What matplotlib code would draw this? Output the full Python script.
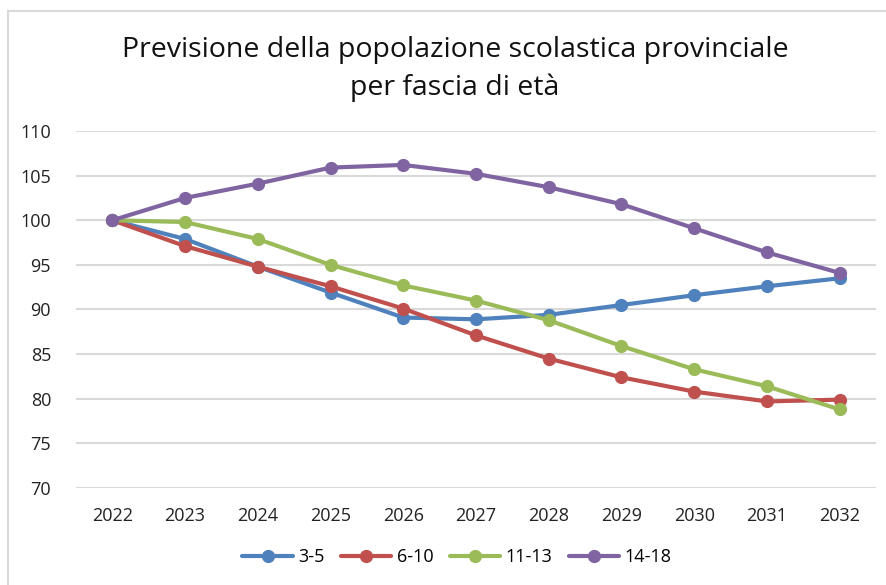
import matplotlib
matplotlib.use("Agg")
import matplotlib.pyplot as plt
from matplotlib.patches import Rectangle

years = ["2022", "2023", "2024", "2025", "2026", "2027", "2028", "2029", "2030", "2031", "2032"]
eta_3_5 = [100, 97.9, 94.8, 91.9, 89.1, 88.9, 89.4, 90.5, 91.6, 92.6, 93.5]
eta_6_10 = [100, 97.1, 94.8, 92.6, 90.1, 87.1, 84.5, 82.4, 80.8, 79.7, 79.9]
eta_11_13 = [100, 99.8, 97.9, 95.0, 92.7, 91.0, 88.8, 85.9, 83.3, 81.4, 78.8]
eta_14_18 = [100, 102.5, 104.1, 105.9, 106.2, 105.2, 103.7, 101.8, 99.1, 96.4, 94.1]

series = [
    ("3-5", eta_3_5, "#4F81BD"),
    ("6-10", eta_6_10, "#C0504D"),
    ("11-13", eta_11_13, "#9BBB59"),
    ("14-18", eta_14_18, "#8064A2"),
]

plt.rcParams['font.family'] = ['Open Sans', 'DejaVu Sans']

fig = plt.figure(figsize=(8.86, 5.85), dpi=100)
ax = fig.add_axes([76 / 886, 1 - 488 / 585, 800 / 886, 357 / 585])

x = range(len(years))
for name, vals, col in series:
    ax.plot(x, vals, color=col, lw=3, marker="o", ms=8.5, label=name,
            solid_capstyle="round", zorder=3)

ax.set_xlim(-0.5, len(years) - 0.5)
ax.set_ylim(70, 110)
ax.set_yticks(range(70, 111, 5))
ax.set_xticks(list(x))
ax.set_xticklabels(years)
ax.grid(axis="y", color="#D9D9D9", lw=1.5)
ax.set_axisbelow(True)
for s in ax.spines.values():
    s.set_visible(False)
ax.tick_params(length=0, labelsize=13, colors="#222222")
ax.tick_params(axis="x", pad=14)
ax.tick_params(axis="y", pad=18)

fig.text(455 / 886, 1 - 69 / 585, "Previsione della popolazione scolastica provinciale\nper fascia di età",
         ha="center", va="center", fontsize=20.5, linespacing=1.45, color="#111111")

ax.legend(loc="center", bbox_to_anchor=(457 / 886, 1 - 557 / 585), bbox_transform=fig.transFigure,
          ncol=4, frameon=False, fontsize=13, handlelength=2.8, columnspacing=0.9,
          handletextpad=0.3)

fig.patches.append(Rectangle((8 / 886, -0.05), 1.0, 1 - 11 / 585 + 0.05, transform=fig.transFigure,
                             fill=False, edgecolor="#D9D9D9", lw=1.5))

fig.savefig("out.png", dpi=100)
